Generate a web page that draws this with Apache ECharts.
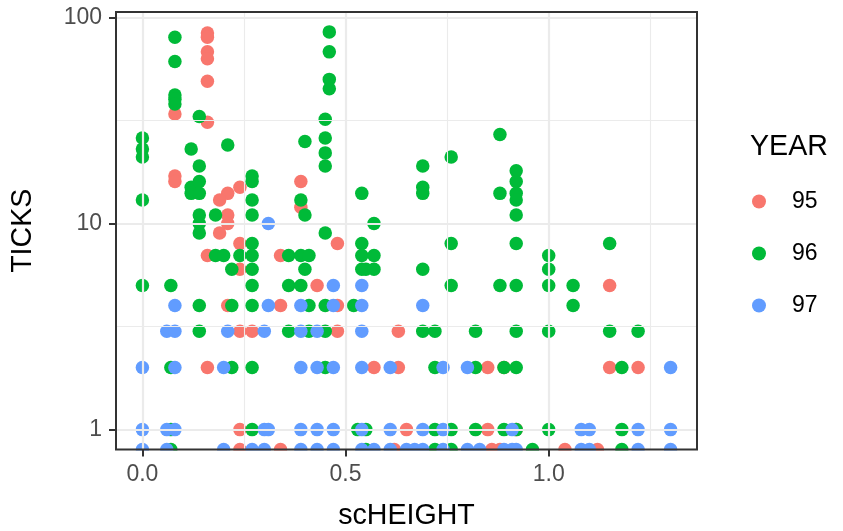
<!DOCTYPE html>
<html><head><meta charset="utf-8">
<script src="https://cdn.jsdelivr.net/npm/echarts@6/dist/echarts.min.js"></script>
<style>html,body{margin:0;padding:0;background:#fff}#c{width:843px;height:531px}</style>
</head><body><div id="c"></div>
<script>
// ---- data ----
const years = ['95', '96', '97'];

const height95 = [0.16,0.16,0.16,0.16,0.16,0.08,0.16,
  0.08,0.08,0.24,0.21,0.19,0.39,0.39,
  0.21,0.21,0.19,0.24,0.48,0.16,0.34,0.24,0.43,1.15,
  0.21,0.34,0.48,
  0.24,0.27,0.48,0.63,
  0.16,0.57,0.63,0.85,0.89,1.15,1.22,
  0.24,0.65,0.85,0.92,
  0.24,0.34,0.62,0.86,0.88,1.04,1.12];
const ticks95 = [84,80,68,63,49,34,31,
  17,16,15,14,13,16,12,
  11,10,9,8,8,7,7,6,5,5,
  4,4,4,
  3,3,3,3,
  2,2,2,2,2,2,2,
  1,1,1,1,
  0,0,0,0,0,0,0];

const height96 = [0,0,0,0,0,
  0.07,0.07,0.07,0.07,
  0.08,0.08,0.08,0.08,0.08,
  0.12,0.12,0.12,
  0.14,0.14,0.14,0.14,0.14,0.14,0.14,0.14,0.14,
  0.18,0.18, 0.20, 0.21, 0.22,0.22,0.22, 0.24,
  0.27,0.27,0.27,0.27,0.27,0.27,0.27,0.27,0.27,0.27,0.27,
  0.36,0.36,0.36, 0.39,0.39,0.39, 0.40,0.40,0.40, 0.41,0.41,0.41,
  0.45,0.45,0.45,0.45,0.45,0.45,0.45,0.45,
  0.46,0.46,0.46,0.46,
  0.52, 0.53, 0.54,0.54,0.54,0.54, 0.55,0.55,0.55, 0.57,0.57,0.57,
  0.69,0.69,0.69,0.69,0.69, 0.72,0.72,0.72,0.72,
  0.76,0.76,0.76,0.76,0.76, 0.82,0.82,0.82,
  0.88,0.88,0.88, 0.89,0.89,
  0.92,0.92,0.92,0.92,0.92,0.92,0.92,0.92,0.92,0.92,
  0.96, 1.00,1.00,1.00,1.00,1.00, 1.06,1.06, 1.15,1.15, 1.18,1.18,1.18, 1.22];
const ticks96 = [26,23,21,13,5,
  5,2,1,0,
  80,61,42,40,38,
  23,15,14,
  33,19,16,14,11,10,9,4,3,
  11,7, 7, 24, 6,4,2, 7,
  17,16,13,11,8,7,6,5,4,2,1,
  7,5,3, 13,7,5, 25,11,6, 7,4,3,
  32,26,22,19,9,4,3,2,
  85,68,50,45,
  4, 1, 14,8,7,6, 6,1,0, 10,7,6,
  19,15,14,6,3, 3,2,1,0,
  21,8,5,1,0, 3,2,1,
  27,14,5, 2,1,
  18,16,14,13,11,8,5,3,2,1,
  0, 7,6,5,3,1, 5,4, 8,3, 2,1,0, 3];

const height97 = [0,0,0, 0.06,0.06,0.06, 0.08,0.08,0.08,0.08,
  0.20,0.20, 0.21, 0.27, 0.30,0.30,0.30, 0.31,0.31,0.31,
  0.39,0.39,0.39,0.39,0.39, 0.43,0.43,0.43,0.43,
  0.47,0.47,0.47,0.47,0.47, 0.54,0.54,0.54,0.54,0.54,0.54,
  0.57, 0.61,0.61,0.61, 0.65, 0.67, 0.69,0.69,0.69, 0.74,0.74,0.74,
  0.80,0.80, 0.83, 0.89, 0.91,0.91, 0.92, 1.08,1.08, 1.10,1.10,
  1.22,1.22, 1.30,1.30,1.30];
const ticks97 = [2,1,0, 3,1,0, 4,3,2,1,
  2,0, 3, 0, 3,1,0, 10,4,1,
  4,3,2,1,0, 3,2,1,0,
  5,4,2,1,0, 5,4,3,2,1,0,
  0, 2,1,0, 0, 0, 4,1,0, 2,1,0,
  2,0, 0, 0, 1,0, 0, 1,0, 1,0,
  1,0, 2,1,0];

const xTickValues = [0, 0.5, 1.0];
const xMinorValues = [0.25, 0.75, 1.25];
const yTickValues = [1, 10, 100];

// ---- scales (ggplot-like 5% expansion; zero counts sit at the lower panel edge like -Inf) ----
const allT = ticks95.concat(ticks96, ticks97).filter(v => v > 0);
const allH = height95.concat(height96, height97);
const lLo = Math.log10(Math.min(...allT)), lHi = Math.log10(Math.max(...allT));
const lSpan = lHi - lLo;
const yMin = Math.pow(10, lLo - 0.05 * lSpan), yMax = Math.pow(10, lHi + 0.05 * lSpan);
const hLo = Math.min(...allH), hHi = Math.max(...allH), hSpan = hHi - hLo;
const xMin = hLo - 0.05 * hSpan, xMax = hHi + 0.05 * hSpan;
const yMinorValues = [Math.pow(10, 0.5), Math.pow(10, 1.5)];

const colors = ['#F8766D', '#00BA38', '#619CFF'];
const FONT = '"Liberation Sans", Arial, Helvetica, sans-serif';
const pts = (h, t) => h.map((x, i) => [x, t[i] > 0 ? t[i] : yMin]);

const G = {left: 116, top: 12, right: 697, bottom: 449.5};

const chart = echarts.init(document.getElementById('c'), null, {renderer: 'canvas'});
const gridLine = (w) => ({color: '#EBEBEB', width: w, type: 'solid'});
chart.setOption({
  animation: false,
  backgroundColor: '#fff',
  color: colors,
  grid: {left: G.left, top: G.top, right: 843 - G.right, bottom: 531 - G.bottom,
         show: true, borderColor: '#333333', borderWidth: 2, backgroundColor: 'transparent', z: 10},
  xAxis: {type: 'value', min: xMin, max: xMax, z: 11,
    axisLine: {show: false, onZero: false},
    splitLine: {show: false},
    axisTick: {show: true, length: 7, lineStyle: {color: '#333333', width: 2}, customValues: xTickValues},
    axisLabel: {customValues: xTickValues, formatter: v => Number(v).toFixed(1),
      color: '#4D4D4D', fontSize: 23, fontFamily: FONT, margin: 14}},
  yAxis: {type: 'log', logBase: 10, min: yMin, max: yMax, z: 11,
    axisLine: {show: false, onZero: false},
    splitLine: {show: false},
    axisTick: {show: true, length: 7, lineStyle: {color: '#333333', width: 2}, customValues: yTickValues},
    axisLabel: {customValues: yTickValues, formatter: v => String(Math.round(v)),
      color: '#4D4D4D', fontSize: 23, fontFamily: FONT, margin: 14}},
  legend: {show: true, orient: 'vertical', left: 747, top: 185, itemWidth: 56, itemHeight: 14,
    itemGap: 29, icon: 'circle', data: years,
    textStyle: {fontSize: 23, color: '#000', fontFamily: FONT}},
  graphic: [
    {type: 'rect', z: 5, silent: true, shape: {x: G.left - 2, y: G.bottom + 1, width: G.right - G.left + 4, height: 10},
     style: {fill: '#fff'}},
    {type: 'text', x: 750, y: 147, z: 20, style: {text: 'YEAR', fontSize: 28.6, fontFamily: FONT, fill: '#000',
      align: 'left', verticalAlign: 'middle'}},
    {type: 'text', x: 23, y: (G.top + G.bottom) / 2, rotation: Math.PI / 2, z: 20,
     style: {text: 'TICKS', fontSize: 28.6, fontFamily: FONT, fill: '#000', align: 'center', verticalAlign: 'middle'}},
    {type: 'text', x: (G.left + G.right) / 2, y: 516, z: 20,
     style: {text: 'scHEIGHT', fontSize: 28.6, fontFamily: FONT, fill: '#000', align: 'center', verticalAlign: 'middle'}}
  ],
  series: [
    {type: 'line', name: 'grid', data: [], z: 1, silent: true,
     markLine: {silent: true, symbol: 'none', label: {show: false}, animation: false,
       data: [
         ...xMinorValues.map(v => ({xAxis: v, lineStyle: gridLine(1.1)})),
         ...yMinorValues.map(v => ({yAxis: v, lineStyle: gridLine(1.1)})),
         ...xTickValues.map(v => ({xAxis: v, lineStyle: gridLine(2.2)})),
         ...yTickValues.map(v => ({yAxis: v, lineStyle: gridLine(2.2)}))
       ]}},
    {type: 'scatter', name: years[0], data: pts(height95, ticks95), symbolSize: 13.5, clip: false, z: 2,
     itemStyle: {color: colors[0], opacity: 1}},
    {type: 'scatter', name: years[1], data: pts(height96, ticks96), symbolSize: 13.5, clip: false, z: 2,
     itemStyle: {color: colors[1], opacity: 1}},
    {type: 'scatter', name: years[2], data: pts(height97, ticks97), symbolSize: 13.5, clip: false, z: 2,
     itemStyle: {color: colors[2], opacity: 1}}
  ]
});
</script></body></html>
